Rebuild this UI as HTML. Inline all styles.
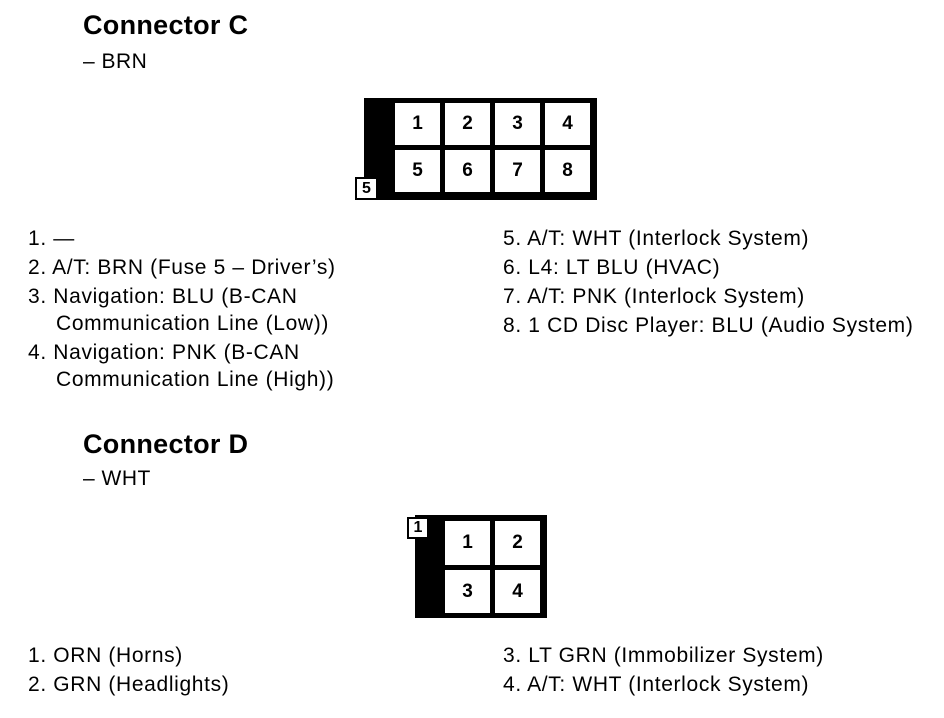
<!DOCTYPE html>
<html><head><meta charset="utf-8"><style>
body{margin:0;background:#fff;width:944px;height:718px;position:relative;overflow:hidden;font-family:"Liberation Sans",Arial,sans-serif;color:#000}
.t{position:absolute;font-size:21px;line-height:20px;white-space:nowrap;letter-spacing:0.65px}
.h{position:absolute;font-size:27px;font-weight:bold;white-space:nowrap;letter-spacing:0.3px}
.box{position:absolute;background:#000}
.c{position:absolute;background:#fff;font-weight:bold;font-size:19px;display:flex;align-items:center;justify-content:center}
.lb{position:absolute;border:2px solid #000;background:#fff;font-size:16px;font-weight:bold;display:flex;align-items:center;justify-content:center;box-sizing:border-box}
</style></head><body>
<div class="h" style="left:83px;top:10px">Connector C</div>
<div class="t" style="left:83px;top:52px;font-size:21px;letter-spacing:0.5px">– BRN</div>

<div class="box" style="left:364px;top:98px;width:233px;height:102px"></div>
<div class="c" style="left:395px;top:103px;width:45px;height:42px">1</div>
<div class="c" style="left:445px;top:103px;width:45px;height:42px">2</div>
<div class="c" style="left:495px;top:103px;width:45px;height:42px">3</div>
<div class="c" style="left:545px;top:103px;width:45px;height:42px">4</div>
<div class="c" style="left:395px;top:150px;width:45px;height:42px">5</div>
<div class="c" style="left:445px;top:150px;width:45px;height:42px">6</div>
<div class="c" style="left:495px;top:150px;width:45px;height:42px">7</div>
<div class="c" style="left:545px;top:150px;width:45px;height:42px">8</div>
<div class="lb" style="left:355px;top:177px;width:23px;height:23px">5</div>

<div class="t" style="left:28px;top:229px">1. —</div>
<div class="t" style="left:28px;top:258px">2. A/T: BRN (Fuse 5 – Driver’s)</div>
<div class="t" style="left:28px;top:287px">3. Navigation: BLU (B-CAN</div>
<div class="t" style="left:56px;top:314px">Communication Line (Low))</div>
<div class="t" style="left:28px;top:343px">4. Navigation: PNK (B-CAN</div>
<div class="t" style="left:56px;top:370px">Communication Line (High))</div>

<div class="t" style="left:503px;top:229px">5. A/T: WHT (Interlock System)</div>
<div class="t" style="left:503px;top:258px">6. L4: LT BLU (HVAC)</div>
<div class="t" style="left:503px;top:287px">7. A/T: PNK (Interlock System)</div>
<div class="t" style="left:503px;top:316px">8. 1 CD Disc Player: BLU (Audio System)</div>

<div class="h" style="left:83px;top:429px">Connector D</div>
<div class="t" style="left:83px;top:469px;font-size:21px;letter-spacing:0.5px">– WHT</div>

<div class="box" style="left:415px;top:515px;width:132px;height:103px"></div>
<div class="c" style="left:445px;top:521px;width:45px;height:44px">1</div>
<div class="c" style="left:495px;top:521px;width:45px;height:44px">2</div>
<div class="c" style="left:445px;top:570px;width:45px;height:43px">3</div>
<div class="c" style="left:495px;top:570px;width:45px;height:43px">4</div>
<div class="lb" style="left:407px;top:517px;width:22px;height:22px">1</div>

<div class="t" style="left:28px;top:646px">1. ORN (Horns)</div>
<div class="t" style="left:28px;top:675px">2. GRN (Headlights)</div>
<div class="t" style="left:503px;top:646px">3. LT GRN (Immobilizer System)</div>
<div class="t" style="left:503px;top:675px">4. A/T: WHT (Interlock System)</div>
</body></html>
